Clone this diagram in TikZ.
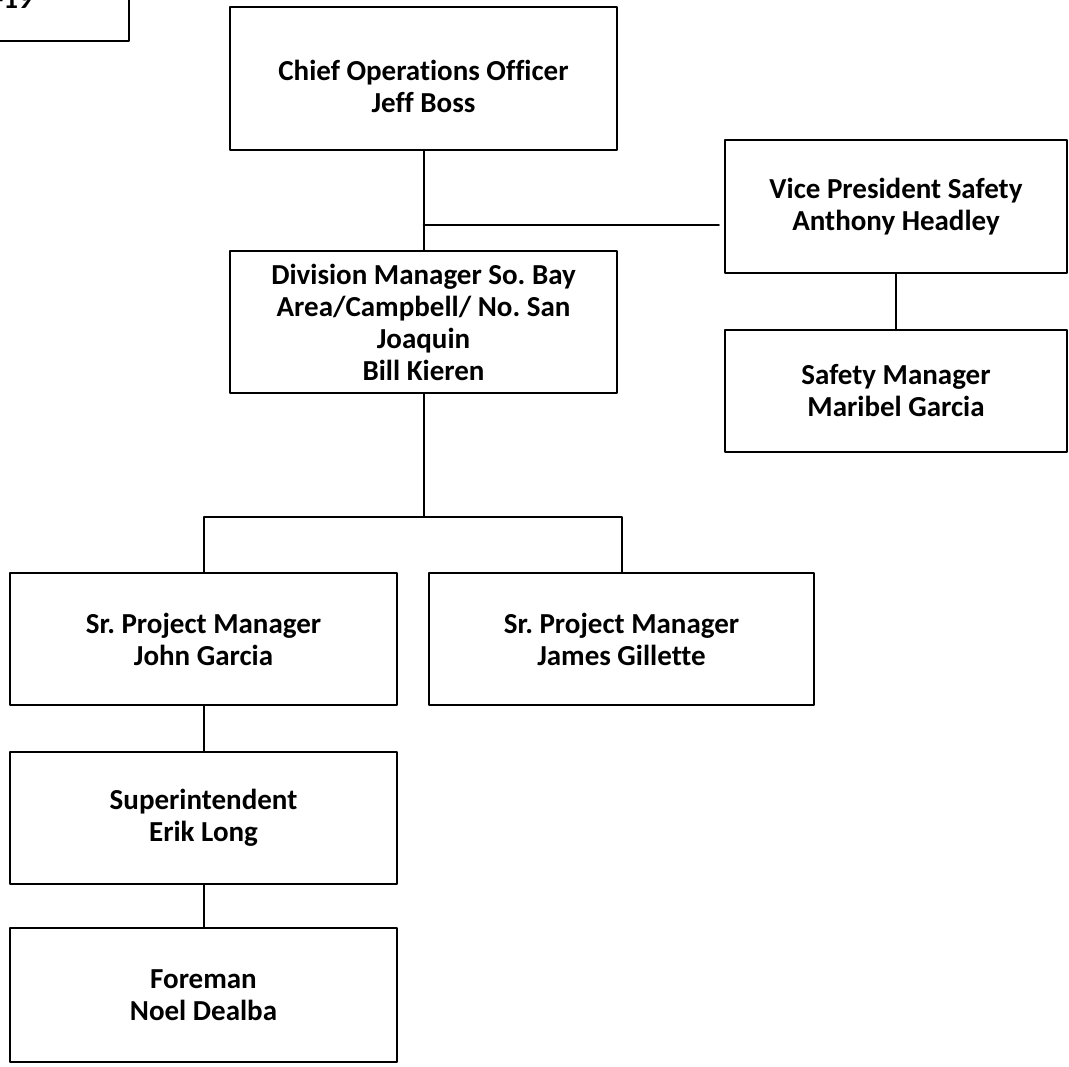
\documentclass[tikz,border=0pt]{standalone}
\usepackage{fontspec}
\setmainfont[Ligatures=NoCommon]{Carlito}
\usetikzlibrary{calc}
\frenchspacing

\begin{document}
\begin{tikzpicture}[x=1pt, y=-1pt, line cap=round, line join=round,
    box/.style={draw, line width=2.2pt, align=center, inner sep=0pt,
      font=\fontsize{29}{32}\selectfont\bfseries},
    link/.style={line width=2pt}]
    \useasboundingbox (0,0) rectangle (1069,1067);

    % cut-off box in the corner
    \node[box, minimum width=170, minimum height=70, anchor=south east] (stamp) at (130,42) {};
    \node[font=\fontsize{29}{32}\selectfont\bfseries, anchor=base east, inner sep=0pt] (date) at (33,9) {-19};

    % top of the chart
    \node[box, minimum width=387, minimum height=143] (coo) at (423.5,78.5)
      {\rule{0pt}{36pt}Chief Operations Officer\\Jeff Boss};
    \node[box, minimum width=342, minimum height=133] (vps) at (896,206.5)
      {Vice President Safety\\Anthony Headley};
    \node[box, minimum width=387, minimum height=142] (dm) at (423.5,322)
      {Division Manager So. Bay\\Area/Campbell/ No. San\\Joaquin\\Bill Kieren};
    \node[box, minimum width=342, minimum height=122] (sm) at (896,391)
      {Safety Manager\\Maribel Garcia};

    % project side
    \node[box, minimum width=387, minimum height=132] (spmA) at (203.5,639)
      {Sr. Project Manager\\John Garcia};
    \node[box, minimum width=385, minimum height=132] (spmB) at (621.5,639)
      {Sr. Project Manager\\James Gillette};
    \node[box, minimum width=387, minimum height=132] (sup) at (203.5,818)
      {Superintendent\\Erik Long};
    \node[box, minimum width=387, minimum height=134] (fore) at (203.5,995)
      {Foreman\\Noel Dealba};

    % junctions
    \coordinate (jct) at (423.5,225);
    \coordinate (bus) at (423.5,517);

    % lines
    \draw[link] (coo) -- (dm);
    \draw[link] (jct) -- ($(jct -| vps.west)+(-5,0)$);
    \draw[link] (vps) -- (sm);
    \draw[link] (dm) -- (bus);
    \draw[link] (spmA.north) |- (bus) -| (spmB.north);
    \draw[link] (spmA) -- (sup);
    \draw[link] (sup) -- (fore);
\end{tikzpicture}
\end{document}
